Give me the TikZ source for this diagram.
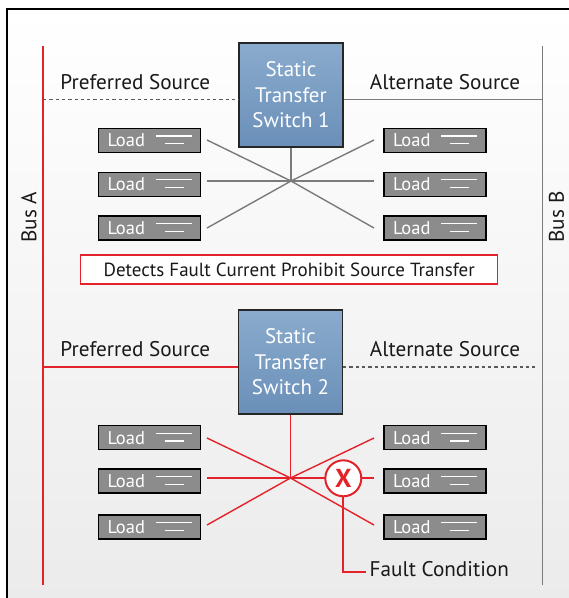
\documentclass[tikz,border=0pt]{standalone}
\usepackage{fontspec}
\setmainfont{PT Sans}
\usetikzlibrary{calc}
\definecolor{fred}{HTML}{E42229}
\definecolor{lgray}{HTML}{7B7B7B}
\definecolor{loadgray}{HTML}{8C8C8D}
\definecolor{stsblue}{HTML}{6A8FB8}
\definecolor{stsbluetop}{HTML}{8AABCD}
\tikzset{
  frame/.style={draw=black, line width=2.5pt, top color=white, bottom color=black!8},
  graywire/.style={draw=lgray, line width=1.4pt},
  redwire/.style={draw=fred, line width=1.4pt},
  dashwire/.style={draw=black!65, line width=1.4pt, dash pattern=on 3.3pt off 3pt},
  sts/.style={draw=black!85, line width=1.3pt, top color=stsbluetop, bottom color=stsblue,
    text=white, font=\fontsize{21}{25.6}\selectfont, align=center,
    minimum width=104pt, minimum height=104pt, inner sep=0pt},
  loadbox/.style={draw=black, line width=1.3pt, fill=loadgray, text=white,
    font=\fontsize{18.5}{20}\selectfont, minimum width=102pt, minimum height=24pt,
    inner sep=0pt,
    path picture={
      \draw[white, line width=1.3pt] ([xshift=57pt,yshift=4.4pt]path picture bounding box.west) -- ++(36pt,0pt);
      \draw[white, line width=1.3pt] ([xshift=66pt,yshift=-3.2pt]path picture bounding box.west) -- ++(19pt,0pt);
    }},
  lbl/.style={font=\fontsize{21.2}{24}\selectfont, anchor=base, inner sep=0pt, text=black!90},
  notebox/.style={draw=fred, line width=1.2pt, fill=white, minimum width=417pt,
    minimum height=29pt, inner sep=0pt, font=\fontsize{19}{20}\selectfont, text=black!90},
  faultmark/.style={circle, draw=fred, line width=2pt, fill=white, minimum size=36pt,
    inner sep=0pt, text=fred, font=\fontsize{26}{26}\selectfont\bfseries},
}
\newcommand{\loadtxt}{\makebox[84pt][l]{Load}}
\begin{document}
\begin{tikzpicture}[x=1pt,y=-1pt]
\useasboundingbox (0,0) rectangle (569,598);
% background frame
\path[frame] (7,9) rectangle (585,615);

% buses
\coordinate (bA1) at (43,46);
\coordinate (bA2) at (43,585);
\coordinate (bB1) at (542.5,46);
\coordinate (bB2) at (542.5,585);
\draw[redwire] (bA1) -- (bA2);
\draw[graywire] (bB1) -- (bB2);
\node[lbl, anchor=center, rotate=90] (busA) at (29,217) {Bus A};
\node[lbl, anchor=center, rotate=90] (busB) at (556.5,217) {Bus B};

% switches
\node[sts] (sw1) at (291,95) {Static\\Transfer\\Switch 1};
\node[sts] (sw2) at (290.5,362) {Static\\Transfer\\Switch 2};

% source lines
\coordinate (pA1) at (43,99.5);
\coordinate (pB1) at (542.5,99.5);
\coordinate (pA2) at (43,367);
\coordinate (pB2) at (537,367);
\draw[dashwire] (pA1) -- (pA1 -| sw1.west);
\draw[graywire] (sw1.east |- pB1) -- (pB1);
\draw[redwire] (pA2) -- (pA2 -| sw2.west);
\draw[dashwire] (sw2.east |- pB2) -- (pB2);

\node[lbl] (pref1) at (135.3,89.3) {Preferred Source};
\node[lbl] (alt1) at (445,89.3) {Alternate Source};
\node[lbl] (pref2) at (135.3,356.3) {Preferred Source};
\node[lbl] (alt2) at (445,356.3) {Alternate Source};

% top distribution
\coordinate (h1) at (291,181);
\coordinate (e1) at (207,140);
\coordinate (e2) at (207,181);
\coordinate (e3) at (207,228);
\coordinate (e4) at (374,140);
\coordinate (e5) at (374,181);
\coordinate (e6) at (374,228);
\draw[graywire] (sw1.south) -- (h1);
\foreach \e in {e1,e2,e3,e4,e5,e6} \draw[graywire] (h1) -- (\e);

\node[loadbox] (L1) at (149.5,140.5) {\loadtxt};
\node[loadbox] (L2) at (149.5,184.2) {\loadtxt};
\node[loadbox] (L3) at (149.5,228) {\loadtxt};
\node[loadbox] (L4) at (435,140.5) {\loadtxt};
\node[loadbox] (L5) at (435,184.2) {\loadtxt};
\node[loadbox] (L6) at (435,228) {\loadtxt};

\node[notebox] (note) at (289.2,269.5) {Detects Fault Current Prohibit Source Transfer};

% bottom distribution
\coordinate (h2) at (290.5,478);
\coordinate (f1) at (207,438);
\coordinate (f2) at (207,478);
\coordinate (f3) at (207,525);
\coordinate (f4) at (374,438);
\coordinate (f5) at (374,478);
\coordinate (f6) at (374,525);
\draw[redwire] (sw2.south) -- (h2);
\foreach \f in {f1,f2,f3,f4,f5,f6} \draw[redwire] (h2) -- (\f);

\node[loadbox] (M1) at (149.5,437.7) {\loadtxt};
\node[loadbox] (M2) at (149.5,481) {\loadtxt};
\node[loadbox] (M3) at (149.5,527) {\loadtxt};
\node[loadbox] (M4) at (435,437.7) {\loadtxt};
\node[loadbox] (M5) at (435,481) {\loadtxt};
\node[loadbox] (M6) at (435,527) {\loadtxt};

% fault
\node[faultmark] (fault) at (343.3,478.3) {X};
\node[lbl, anchor=base west] (fc) at (369.5,576.3) {Fault Condition};
\coordinate (fcl) at (366,572);
\draw[fred, line width=2pt] (fault.south) |- (fcl);
\end{tikzpicture}
\end{document}
